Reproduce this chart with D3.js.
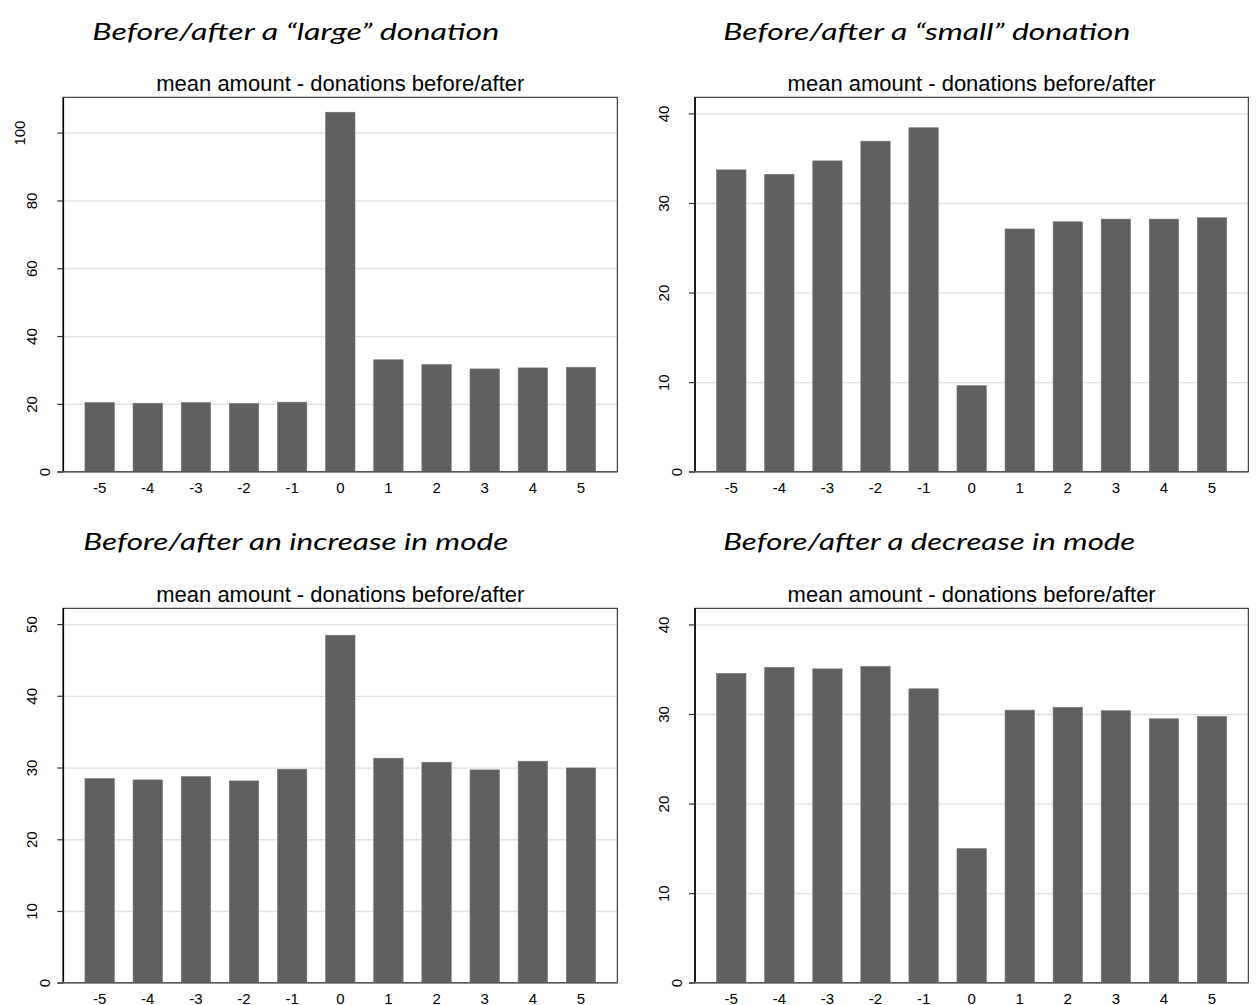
<!DOCTYPE html>
<html>
<head>
<meta charset="utf-8">
<script src="https://cdn.jsdelivr.net/npm/d3@7"></script>
<style>
  html, body { margin: 0; padding: 0; background: #fff; }
  svg { display: block; }
</style>
</head>
<body>
<svg id="chart" width="1256" height="1005"></svg>
<script>
// Event-time periods around the donation event
const periods = ["-5", "-4", "-3", "-2", "-1", "0", "1", "2", "3", "4", "5"];

// Mean donation amount per period, one series per event type
const largeDonation = [20.4, 20.2, 20.4, 20.1, 20.5, 106.0, 33.0, 31.6, 30.3, 30.6, 30.8];
const smallDonation = [33.7, 33.2, 34.7, 36.9, 38.4, 9.6, 27.1, 27.9, 28.2, 28.2, 28.35];
const modeIncrease  = [28.45, 28.27, 28.73, 28.13, 29.76, 48.45, 31.3, 30.74, 29.67, 30.88, 29.94];
const modeDecrease  = [34.53, 35.2, 35.04, 35.31, 32.81, 14.96, 30.43, 30.73, 30.36, 29.46, 29.73];

// Y-axis tick values and upper range of each panel
const ticksLarge    = [0, 20, 40, 60, 80, 100];
const ticksSmall    = [0, 10, 20, 30, 40];
const ticksIncrease = [0, 10, 20, 30, 40, 50];
const ticksDecrease = [0, 10, 20, 30, 40];
const yTops = [110.4, 41.8, 52.2, 41.8];

// Panel headings and the common chart title
const headings = [
  "Before/after a \u201Clarge\u201D donation",
  "Before/after a \u201Csmall\u201D donation",
  "Before/after an increase in mode",
  "Before/after a decrease in mode"
];
const subtitle = "mean amount - donations before/after";

const panels = [
  { values: largeDonation, ticks: ticksLarge,    top: yTops[0], heading: headings[0],
    box: { x: 63.3, y: 97.3, w: 554, h: 374.4 },  head: { x: 92.3, y: 40, len: 407 } },
  { values: smallDonation, ticks: ticksSmall,    top: yTops[1], heading: headings[1],
    box: { x: 695,  y: 97.3, w: 553.3, h: 374.4 }, head: { x: 723.3, y: 40, len: 407 } },
  { values: modeIncrease,  ticks: ticksIncrease, top: yTops[2], heading: headings[2],
    box: { x: 63.3, y: 608.3, w: 554, h: 374.4 }, head: { x: 83.3, y: 550, len: 425 } },
  { values: modeDecrease,  ticks: ticksDecrease, top: yTops[3], heading: headings[3],
    box: { x: 695,  y: 608.3, w: 553.3, h: 374.4 }, head: { x: 723.3, y: 550, len: 412 } }
];

const svg = d3.select("#chart");
const sans = "'Liberation Sans', Arial, Helvetica, sans-serif";

panels.forEach(p => {
  // Italic heading above each panel
  svg.append("text")
    .attr("x", p.head.x)
    .attr("y", p.head.y)
    .attr("textLength", p.head.len)
    .attr("lengthAdjust", "spacingAndGlyphs")
    .style("font-family", "Lato, 'Open Sans', sans-serif")
    .style("font-style", "italic")
    .style("font-size", "24px")
    .style("fill", "#000")
    .text(p.heading);

  const { x: bx, y: by, w, h } = p.box;
  const g = svg.append("g").attr("transform", `translate(${bx},${by})`);

  const x = d3.scaleBand()
    .domain(periods)
    .range([0, w])
    .paddingInner(0.39)
    .paddingOuter(0.45);

  const y = d3.scaleLinear()
    .domain([0, p.top])
    .range([h, 0]);

  // Light horizontal gridlines at the non-zero ticks
  g.append("g")
    .attr("class", "grid")
    .call(d3.axisLeft(y).tickValues(p.ticks.filter(t => t !== 0)).tickSize(-w).tickFormat(""))
    .call(s => s.select(".domain").remove())
    .call(s => s.selectAll("line").attr("stroke", "#e2e2e2").attr("stroke-width", 1.3));

  // Bars
  g.selectAll("rect.bar")
    .data(p.values)
    .join("rect")
    .attr("class", "bar")
    .attr("x", (d, i) => x(periods[i]))
    .attr("width", x.bandwidth())
    .attr("y", d => y(d))
    .attr("height", d => h - y(d))
    .attr("fill", "#606060")
    .attr("stroke", "#707070")
    .attr("stroke-width", 0.6);

  // Plot frame
  g.append("rect")
    .attr("x", 0).attr("y", 0)
    .attr("width", w).attr("height", h)
    .attr("fill", "none")
    .attr("stroke", "#1a1a1a")
    .attr("stroke-width", 1);

  // Y axis with vertical labels
  const yAxis = g.append("g")
    .call(d3.axisLeft(y).tickValues(p.ticks).tickSize(6).tickFormat(d3.format("d")));
  yAxis.select(".domain")
    .attr("d", `M0,${h}V0`)
    .attr("stroke", "#000")
    .attr("stroke-width", 1.6);
  yAxis.selectAll(".tick line").attr("stroke", "#333").attr("stroke-width", 1.2);
  yAxis.selectAll(".tick text")
    .attr("x", null)
    .attr("dy", null)
    .attr("text-anchor", "middle")
    .attr("transform", d => `translate(${-(13.3 + 12.6 * (String(d).length - 1))},0) rotate(-90)`)
    .style("font-family", sans)
    .style("font-size", "15px")
    .style("fill", "#000");

  // Baseline extending past the tick marks
  g.append("line")
    .attr("x1", -6).attr("x2", w)
    .attr("y1", y(0)).attr("y2", y(0))
    .attr("stroke", "#555")
    .attr("stroke-width", 1.6);

  // X axis labels
  const xAxis = g.append("g")
    .attr("transform", `translate(0,${h})`)
    .call(d3.axisBottom(x).tickSize(0));
  xAxis.select(".domain").remove();
  xAxis.selectAll(".tick text")
    .attr("y", 21.3)
    .attr("dy", null)
    .style("font-family", sans)
    .style("font-size", "15px")
    .style("fill", "#000");

  // Chart title centred over the plot
  g.append("text")
    .attr("x", w / 2)
    .attr("y", -6)
    .attr("text-anchor", "middle")
    .style("font-family", sans)
    .style("font-size", "22px")
    .style("fill", "#000")
    .text(subtitle);
});
</script>
</body>
</html>
